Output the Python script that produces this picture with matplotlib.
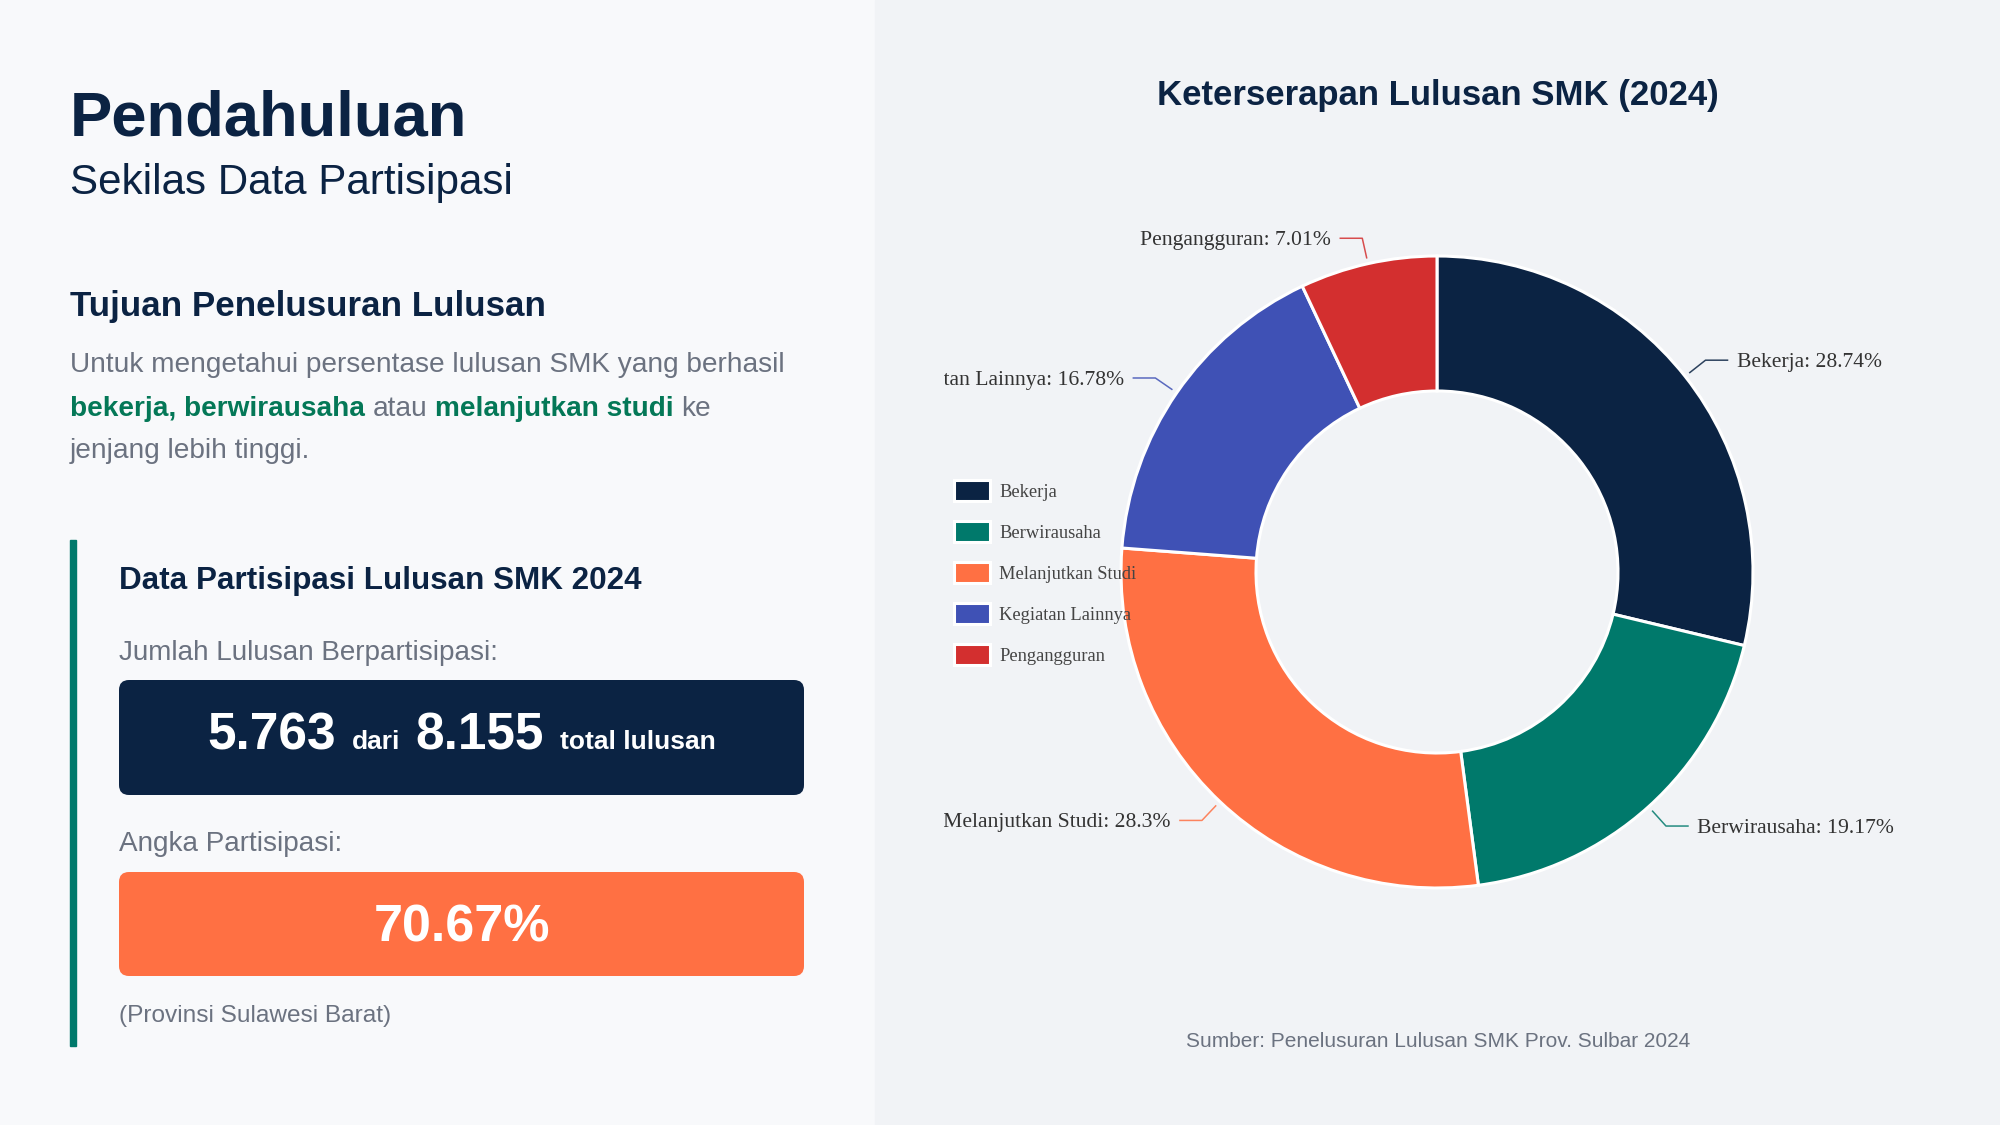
import numpy as np
import matplotlib.pyplot as plt
from matplotlib.patches import FancyBboxPatch, Rectangle

plt.rcParams['font.family'] = ['Liberation Sans', 'DejaVu Sans']

# data
categories = ['Bekerja', 'Berwirausaha', 'Melanjutkan Studi', 'Kegiatan Lainnya', 'Pengangguran']
shares = [28.74, 19.17, 28.3, 16.78, 7.01]
colors = ['#0b2343', '#00796b', '#ff7043', '#3f51b5', '#d32f2f']

participants = 5763
graduates = 8155
participation = 70.67

NAVY = '#0b2343'
GRAY = '#6b7280'
GREEN = '#047857'
W, H = 2000, 1125

fig = plt.figure(figsize=(20, 11.25), dpi=100)
fig.patch.set_facecolor('#f8f9fb')

# full-size canvas axes, pixel units with y going down
bg = fig.add_axes([0, 0, 1, 1])
bg.set_xlim(0, W)
bg.set_ylim(H, 0)
bg.axis('off')
bg.add_patch(Rectangle((875, 0), W - 875, H, color='#f1f3f6', zorder=0))

renderer = fig.canvas.get_renderer()


def run(parts, y, x=None, center=None):
    # parts: (text, size, weight, color, gap after)
    arts = [bg.text(0, y, s, fontsize=sz, fontweight=wt, color=c, va='baseline')
            for s, sz, wt, c, g in parts]
    widths = [a.get_window_extent(renderer).width for a in arts]
    total = sum(widths) + sum(p[4] for p in parts[:-1])
    if center is not None:
        x = center - total / 2
    for a, w, p in zip(arts, widths, parts):
        a.set_x(x)
        x += w + p[4]


# left panel
bg.text(70, 135, 'Pendahuluan', fontsize=45.6, fontweight='bold', color=NAVY, va='baseline')
bg.text(70, 194, 'Sekilas Data Partisipasi', fontsize=30.3, color=NAVY, va='baseline')
bg.text(70, 316, 'Tujuan Penelusuran Lulusan', fontsize=25.2, fontweight='bold', color=NAVY, va='baseline')

bg.text(70, 372, 'Untuk mengetahui persentase lulusan SMK yang berhasil', fontsize=20.2, color=GRAY, va='baseline')
run([('bekerja, berwirausaha', 20.2, 'bold', GREEN, 7.7),
     ('atau', 20.2, 'normal', GRAY, 7.7),
     ('melanjutkan studi', 20.2, 'bold', GREEN, 7.7),
     ('ke', 20.2, 'normal', GRAY, 0)], 416, x=70)
bg.text(70, 458, 'jenjang lebih tinggi.', fontsize=20.2, color=GRAY, va='baseline')

bg.add_patch(Rectangle((70, 540), 6, 506, color='#00796b'))
bg.text(119, 589, 'Data Partisipasi Lulusan SMK 2024', fontsize=22.6, fontweight='bold', color=NAVY, va='baseline')

bg.text(119, 660, 'Jumlah Lulusan Berpartisipasi:', fontsize=20.1, color=GRAY, va='baseline')
bg.add_patch(FancyBboxPatch((119, 680), 685, 115, boxstyle='round,pad=0,rounding_size=10',
                            fc=NAVY, ec='none'))
run([(f'{participants:,}'.replace(',', '.'), 37, 'bold', 'white', 16),
     ('dari', 19, 'bold', 'white', 15),
     (f'{graduates:,}'.replace(',', '.'), 37, 'bold', 'white', 16),
     ('total lulusan', 19, 'bold', 'white', 0)], 749, center=461.5)

bg.text(119, 851, 'Angka Partisipasi:', fontsize=20.1, color=GRAY, va='baseline')
bg.add_patch(FancyBboxPatch((119, 872), 685, 104, boxstyle='round,pad=0,rounding_size=10',
                            fc='#ff7043', ec='none'))
bg.text(461.5, 941, f'{participation:.2f}%', fontsize=37.5, fontweight='bold', color='white',
        ha='center', va='baseline')
bg.text(119, 1022, '(Provinsi Sulawesi Barat)', fontsize=17.6, color=GRAY, va='baseline')

# right panel
bg.text(1438, 105, 'Keterserapan Lulusan SMK (2024)', fontsize=25, fontweight='bold', color=NAVY,
        ha='center', va='baseline')
bg.text(1438, 1047, 'Sumber: Penelusuran Lulusan SMK Prov. Sulbar 2024', fontsize=15, color=GRAY,
        ha='center', va='baseline')

# donut chart, axes in pixel units centred on the donut
cx, cy = 1437, 572
left, right, top, bottom = 944, 1931, 140, 1000
ax = fig.add_axes([left / W, 1 - bottom / H, (right - left) / W, (bottom - top) / H])
wedges, _ = ax.pie(shares, colors=colors, startangle=90, counterclock=False, radius=316,
                   wedgeprops=dict(width=135, edgecolor='white', linewidth=2.2))
ax.set_xlim(left - cx, right - cx)
ax.set_ylim(cy - bottom, cy - top)
ax.set_aspect('auto')
ax.axis('off')

serif = ['Liberation Serif', 'DejaVu Serif']
for w, name, val, col in zip(wedges, categories, shares, colors):
    mid = np.deg2rad((w.theta1 + w.theta2) / 2)
    c, s = np.cos(mid), np.sin(mid)
    side = 1 if c >= 0 else -1
    x1, y1 = 322 * c, 322 * s
    x2, y2 = 342 * c, 342 * s
    x3 = x2 + side * 22
    ax.plot([x1, x2, x3], [y1, y2, y2], color=col, lw=1.1, alpha=0.85, clip_on=False)
    ax.text(x3 + side * 9, y2, f'{name}: {val}%', family=serif, fontsize=15.6, color='#333333',
            ha='left' if side > 0 else 'right', va='center_baseline', clip_on=True)

leg = ax.legend(wedges, categories, loc='upper left', bbox_to_anchor=(954 / W, 1 - 480 / H),
                bbox_transform=fig.transFigure, frameon=False, prop=dict(family=serif, size=13.3),
                handlelength=1.95, handleheight=1.35, handletextpad=0.5, labelspacing=1.1,
                borderpad=0, borderaxespad=0, labelcolor='#444444')

fig.savefig('out.png', dpi=100, facecolor=fig.get_facecolor())
